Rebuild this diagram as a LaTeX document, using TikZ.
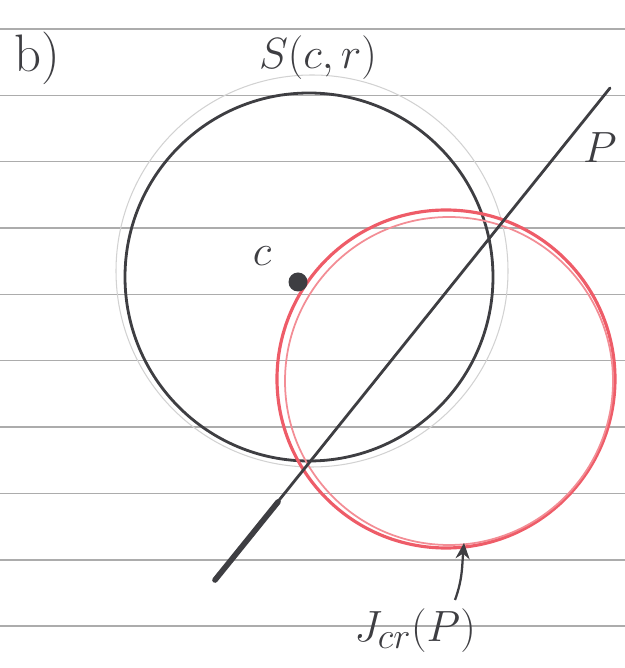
\documentclass[tikz,border=0pt]{standalone}
\usepackage{tkz-euclide}
\usepackage{amsmath}
\usetikzlibrary{arrows.meta}
\definecolor{redpen}{RGB}{238,92,104}
\definecolor{pencil}{RGB}{62,62,66}
\tikzset{
  ruling/.style={draw=gray!65,line width=0.8pt},
  penline/.style={draw=pencil,line width=1.6pt},
  sketch/.style={draw=gray!35,line width=0.6pt},
  lbl/.style={font=\fontsize{30}{34}\selectfont,text=pencil}
}
\begin{document}
\begin{tikzpicture}
            \useasboundingbox (0,0) rectangle (12.5,13.36);
            % ruled paper
            \foreach \k in {0,...,9}
              \draw[ruling] (0,{12.78-1.327*\k}) -- (12.5,{12.78-1.327*\k});

            \tkzDefPoints{6.18/7.82/O, 6.24/7.94/O_g, 8.92/5.78/O_j, 8.98/5.74/O_k, 5.96/7.72/c}
            \tkzDefShiftPoint[O](0:3.68){s}
            \tkzDefShiftPoint[O_g](0:3.92){g}
            \tkzDefShiftPoint[O_j](0:3.38){j}
            \tkzDefShiftPoint[O_k](0:3.28){k}
            \tkzDrawCircle[sketch](O_g,g)
            \tkzDrawCircle[penline](O,s)
            \tkzDrawCircle[draw=redpen,line width=1.8pt](O_j,j)
            \tkzDrawCircle[draw=redpen!70,line width=1pt](O_k,k)

            %%%%%%%%%%%%%%%%%%%%
            \tkzDefPoints{4.30/1.76/p_a, 12.20/11.60/p_b, 5.56/3.32/p_k}
            \tkzDrawSegment[penline](p_a,p_b)
            \tkzDrawSegment[penline,line width=3.2pt](p_a,p_k)

            \fill[pencil] (c) circle (0.19);
            %\tkzLabelPoint[above left,lbl](c){$c$}

            \tkzDefPoints{9.10/1.36/a_s, 9.28/2.50/a_t}
            \draw[pencil,line width=1.3pt,-{Stealth[length=9pt,width=8pt]}] (a_s) to[out=70,in=-95] (a_t);

            \node[lbl] (lab_b) at (0.75,12.2) {b)};
            \node[lbl] (lab_S) at (6.36,12.2) {$S(c,r)$};
            \node[lbl] (lab_c) at (5.24,8.24) {$c$};
            \node[lbl] (lab_P) at (12.0,10.4) {$P$};
            \node[lbl] (lab_J) at (8.3,0.74) {$J_{cr}(P)$};
        \end{tikzpicture}
\end{document}
